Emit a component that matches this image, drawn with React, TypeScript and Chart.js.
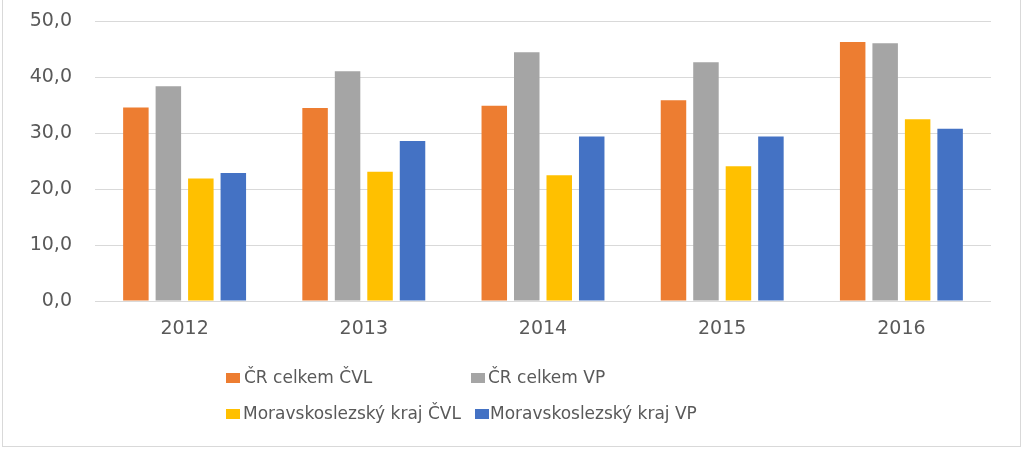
import React, { useEffect, useRef } from "react";
import { Chart, registerables } from "chart.js";

Chart.register(...registerables);

const categories = ["2012", "2013", "2014", "2015", "2016"];
const seriesNames = [
  "ČR celkem ČVL",
  "ČR celkem VP",
  "Moravskoslezský kraj ČVL",
  "Moravskoslezský kraj VP",
];
const crCvl = [34.6, 34.5, 34.9, 35.9, 46.3];
const crVp = [38.4, 41.1, 44.5, 42.7, 46.1];
const mskCvl = [21.9, 23.1, 22.5, 24.1, 32.5];
const mskVp = [22.9, 28.6, 29.4, 29.4, 30.8];
const yTickLabels = ["0,0", "10,0", "20,0", "30,0", "40,0", "50,0"];
const colors = ["#ED7D31", "#A5A5A5", "#FFC000", "#4472C4"];

const TEXT = "#595959";
const FONT = "'DejaVu Sans', sans-serif";

export default function App() {
  const ref = useRef<HTMLCanvasElement | null>(null);

  useEffect(() => {
    const values = [crCvl, crVp, mskCvl, mskVp];
    const chart = new Chart(ref.current as HTMLCanvasElement, {
      type: "bar",
      data: {
        labels: categories,
        datasets: seriesNames.map((name, i) => ({
          label: name,
          data: values[i],
          backgroundColor: colors[i],
          borderWidth: 0,
          categoryPercentage: 0.725,
          barPercentage: 0.785,
        })),
      },
      options: {
        animation: false,
        responsive: false,
        maintainAspectRatio: false,
        layout: { padding: { top: 0, right: 33, left: 0, bottom: 0 } },
        plugins: { legend: { display: false }, tooltip: { enabled: false } },
        scales: {
          x: {
            grid: { display: false, drawTicks: false },
            border: { display: false },
            ticks: {
              color: TEXT,
              font: { family: FONT, size: 19 },
              padding: 17,
            },
            afterFit: (scale: any) => {
              scale.height = 149;
            },
          },
          y: {
            min: 0,
            max: 50,
            ticks: {
              stepSize: 10,
              color: TEXT,
              font: { family: FONT, size: 19 },
              padding: 23,
              callback: (v: any) => yTickLabels[Math.round(Number(v) / 10)],
            },
            grid: { color: "#d9d9d9", lineWidth: 1, drawTicks: false },
            border: { display: false },
            afterFit: (scale: any) => {
              scale.width = 95;
            },
          },
        },
      },
    });
    return () => chart.destroy();
  }, []);

  const legendItems = [
    { i: 0, box: 226, text: 244, y: 378 },
    { i: 1, box: 471, text: 488, y: 378 },
    { i: 2, box: 226, text: 243, y: 414 },
    { i: 3, box: 475, text: 490, y: 414 },
  ];

  return (
    <div
      style={{
        position: "absolute",
        left: 0,
        top: 0,
        width: 1024,
        height: 450,
        background: "#fff",
        overflow: "hidden",
      }}
    >
      <div
        style={{
          position: "absolute",
          left: 2,
          top: -2,
          width: 1019,
          height: 449,
          border: "1px solid #d9d9d9",
          boxSizing: "border-box",
        }}
      />
      <canvas
        ref={ref}
        width={1024}
        height={463}
        style={{ position: "absolute", left: 0, top: -13, width: 1024, height: 463 }}
      />
      {legendItems.map((it) => (
        <React.Fragment key={it.i}>
          <div
            style={{
              position: "absolute",
              left: it.box,
              top: it.y - 5,
              width: 14,
              height: 10,
              background: colors[it.i],
            }}
          />
          <div
            style={{
              position: "absolute",
              left: it.text,
              top: it.y - 11,
              fontFamily: FONT,
              fontSize: 17,
              lineHeight: "21px",
              color: TEXT,
              whiteSpace: "nowrap",
            }}
          >
            {seriesNames[it.i]}
          </div>
        </React.Fragment>
      ))}
    </div>
  );
}
